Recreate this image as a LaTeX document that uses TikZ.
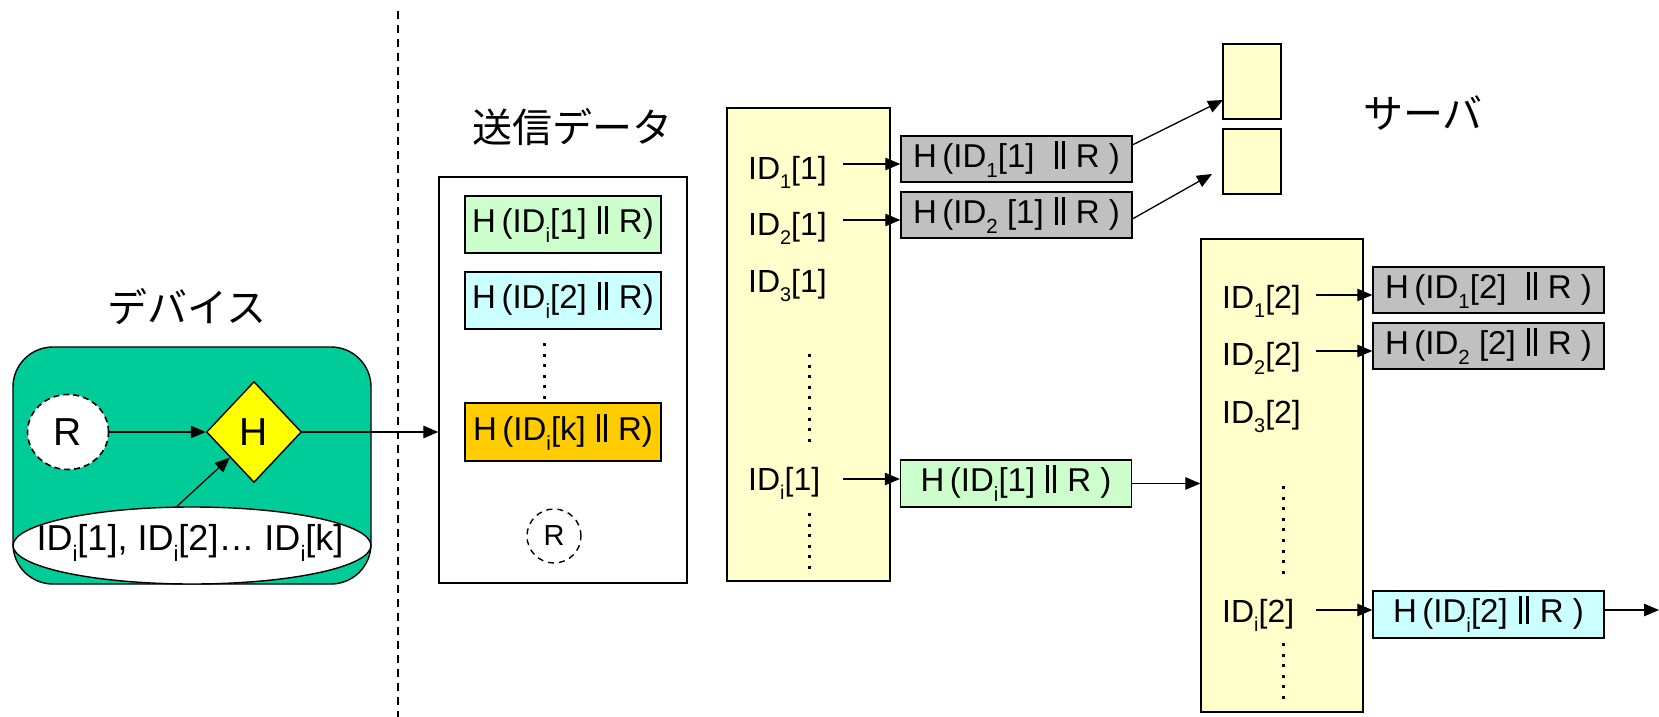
\documentclass[tikz,border=0pt]{standalone}
\usepackage{fontspec}
\setmainfont{Liberation Sans}
\newfontfamily\jp{Noto Sans CJK JP}
\usetikzlibrary{arrows.meta,shapes.geometric,calc}
\definecolor{devgreen}{HTML}{00CC99}
\definecolor{hyellow}{HTML}{FFFF00}
\definecolor{lgreen}{HTML}{CCFFCC}
\definecolor{lcyan}{HTML}{CCFFFF}
\definecolor{orng}{HTML}{FFCC00}
\definecolor{lyel}{HTML}{FFFFCC}
\definecolor{gry}{HTML}{C0C0C0}
\newcommand\lowr[1]{\raisebox{-0.3em}{\scalebox{0.62}{#1}}}
\newcommand\dbar{\kern0.06em\rule[-0.05em]{0.09em}{0.85em}\kern0.12em\rule[-0.05em]{0.09em}{0.85em}\kern0.06em}
\newcommand\fs[1]{\fontsize{#1}{#1}\selectfont}
\begin{document}
\begin{tikzpicture}[x=1pt,y=-1pt,
 box/.style={draw, line width=1.4pt, rectangle, inner sep=0pt, anchor=center},
 hbox/.style={box, minimum width=231pt, minimum height=46pt, font=\fs{33}},
 sbox/.style={box, minimum width=196pt, minimum height=57pt, font=\fs{33}},
 col/.style={box, fill=lyel, minimum width=163pt, minimum height=473pt},
 idt/.style={anchor=base west, inner sep=0pt, font=\fs{32}},
 ttl/.style={font=\jp\fs{40}, inner sep=0pt},
 arr/.style={-{Triangle[length=15pt,width=12.5pt]}, line width=1.3pt},
 dotl/.style={line width=3pt, dash pattern=on 3pt off 7.6pt},
]
\useasboundingbox (0,0) rectangle (1659,717);

% ---------- device ----------
\node[ttl] (devt) at (187,307) {デバイス};
\node[box, fill=devgreen, rounded corners=40pt, minimum width=358pt, minimum height=237pt] (dev) at (192,465.5) {};
\node[draw, line width=1.4pt, ellipse, fill=white, inner sep=0pt, minimum width=358pt, minimum height=77pt] (idell) at (192,545.5) {};
\node[inner sep=0pt, font=\fs{36}] (idtxt) at (190,543) {ID\lowr{i}[1], ID\lowr{i}[2]… ID\lowr{i}[k]};
\node[draw, line width=1.6pt, dash pattern=on 6pt off 4pt, ellipse, fill=white, inner sep=0pt, minimum width=81pt, minimum height=75pt, font=\fs{39}] (R) at (68,432) {R};
\node[draw, line width=1.4pt, diamond, fill=hyellow, inner sep=0pt, minimum width=95pt, minimum height=101pt, font=\fs{39}] (H) at (254,432) {H};
\draw[arr] (R.east) -- (H.west);
\draw[arr] ([xshift=-15pt]idell.north) -- (H.south west);

% dashed separator
\draw[line width=1.8pt, dash pattern=on 8pt off 6pt] (398,11) -- (398,717);

% ---------- send data ----------
\node[ttl] (sendt) at (572,127) {送信データ};
\node[box, fill=white, minimum width=248pt, minimum height=406pt] (send) at (563,380) {};
\node[sbox, fill=lgreen] (s1) at (563,224.5) {H\,(ID\lowr{i}[1] \dbar\ R)};
\node[sbox, fill=lcyan] (s2) at (563,300.5) {H\,(ID\lowr{i}[2] \dbar\ R)};
\node[sbox, fill=orng, minimum height=58pt] (sk) at (563,432) {H\,(ID\lowr{i}[k] \dbar\ R)};
\draw[dotl] (544,343) -- (544,400);
\node[draw, line width=1.4pt, dash pattern=on 6pt off 5pt, circle, inner sep=0pt, minimum size=54pt, font=\fs{29}] (sR) at (554,536) {R};
\draw[arr] (H.east) -- (H.east -| send.west);

% ---------- column 1 ----------
\node[col] (c1) at (808.5,344.5) {};
\node[idt] (t11) at (748,179) {ID\lowr{1}[1]};
\node[idt] (t12) at (748,235) {ID\lowr{2}[1]};
\node[idt] (t13) at (748,292) {ID\lowr{3}[1]};
\node[idt] (t1i) at (748,490) {ID\lowr{i}[1]};
\draw[dotl] (809,354) -- (809,444);
\draw[dotl] (809,513) -- (809,569);

\node[hbox, fill=gry] (g1) at (1016.5,159) {H\,(ID\lowr{1}[1]\ \ \dbar\ R )};
\node[hbox, fill=gry] (g2) at (1016.5,215) {H\,(ID\lowr{2} [1] \dbar\ R )};
\node[hbox, fill=lgreen, minimum height=47pt] (g5) at (1016,483.5) {H\,(ID\lowr{i}[1] \dbar\ R )};
\coordinate (a11) at (843,164);
\coordinate (a12) at (843,220);
\coordinate (a1i) at (843,479);
\draw[arr] (a11) -- (a11 -| g1.west);
\draw[arr] (a12) -- (a12 -| g2.west);
\draw[arr] (a1i) -- (a1i -| g5.west);

% small server boxes
\node[box, fill=lyel, minimum width=58pt, minimum height=75pt] (b1) at (1252,81.5) {};
\node[box, fill=lyel, minimum width=58pt, minimum height=65pt] (b2) at (1252,161.5) {};
\coordinate (e1) at (1223,100);
\coordinate (e2) at (1212,174);
\draw[arr] ($(g1.north east)!0.2!(g1.south east)$) -- (e1);
\draw[arr] ($(g2.north east)!0.58!(g2.south east)$) -- (e2);
\node[ttl] (servt) at (1423,113) {サーバ};

% ---------- column 2 ----------
\node[col, minimum width=162pt] (c2) at (1282,475.5) {};
\draw[arr] (g5.east) -- (g5.east -| c2.west);
\node[idt] (t21) at (1222,308) {ID\lowr{1}[2]};
\node[idt] (t22) at (1222,365) {ID\lowr{2}[2]};
\node[idt] (t23) at (1222,423) {ID\lowr{3}[2]};
\node[idt] (t2i) at (1222,622) {ID\lowr{i}[2]};
\draw[dotl] (1283,486) -- (1283,574);
\draw[dotl] (1283,643) -- (1283,699);

\node[hbox, fill=gry] (g3) at (1488.5,290) {H\,(ID\lowr{1}[2]\ \ \dbar\ R )};
\node[hbox, fill=gry] (g4) at (1488.5,346) {H\,(ID\lowr{2} [2] \dbar\ R )};
\node[hbox, fill=lcyan, minimum height=47pt] (g6) at (1488.5,614.5) {H\,(ID\lowr{i}[2] \dbar\ R )};
\coordinate (a21) at (1316,295);
\coordinate (a22) at (1316,351);
\coordinate (a2i) at (1316,610);
\draw[arr] (a21) -- (a21 -| g3.west);
\draw[arr] (a22) -- (a22 -| g4.west);
\draw[arr] (a2i) -- (a2i -| g6.west);
\coordinate (e3) at (1659,610);
\draw[arr] (a2i -| g6.east) -- (e3);
\end{tikzpicture}
\end{document}
